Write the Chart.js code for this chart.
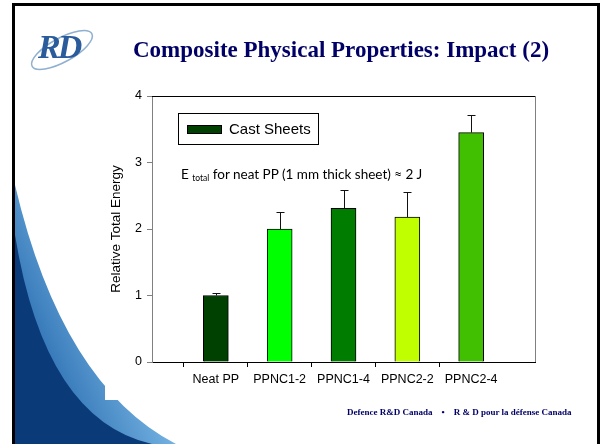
<!DOCTYPE html>
<html>
<head>
<meta charset="utf-8">
<script src="https://cdn.jsdelivr.net/npm/chart.js@4.4.0/dist/chart.umd.min.js"></script>
<style>
  html, body { margin: 0; padding: 0; background: #fff; }
  #wrap { position: relative; width: 602px; height: 444px; overflow: hidden; }
  #c { position: absolute; left: 0; top: 0; }
  .txt { position: absolute; white-space: nowrap; }
  #title { left: 133px; top: 37px; font: bold 23px "Liberation Serif", serif; color: #000066; }
  #logo { left: 38px; top: 28px; font: bold italic 34px "Liberation Serif", serif; color: #2a5c9c; letter-spacing: -3px; }
  #footer { left: 347px; top: 407px; font: bold 9px "Liberation Serif", serif; color: #000066; }
  #legend { position: absolute; left: 178px; top: 113px; width: 139px; height: 30px; border: 1px solid #000; background: #fff; }
  #legend .sw { position: absolute; left: 8px; top: 11px; width: 33px; height: 7px; border: 1px solid #000; }
  #legend .lb { position: absolute; left: 50px; top: 6px; font: 15px "Liberation Sans", Arial, sans-serif; color: #000; }
  #note { left: 181px; top: 166px; font: 13.5px Lato, "Open Sans", sans-serif; color: #000; }
  #note sub { font-size: 8.5px; vertical-align: -2px; }
</style>
</head>
<body>
<div id="wrap">
  <canvas id="c" width="602" height="444"></canvas>
  <div class="txt" id="logo">RD</div>
  <div class="txt" id="title">Composite Physical Properties: Impact (2)</div>
  <div id="legend"><div class="sw"></div><div class="lb"></div></div>
  <div class="txt" id="note">E <sub>total</sub> for neat PP (1 mm thick sheet) ≈ 2 J</div>
  <div class="txt" id="footer">Defence R&amp;D Canada &nbsp;&nbsp; • &nbsp;&nbsp; R &amp; D pour la défense Canada</div>
</div>
<script>
// valeurs
const seriesName = 'Cast Sheets';
const categories = ['Neat PP', 'PPNC1-2', 'PPNC1-4', 'PPNC2-2', 'PPNC2-4'];
const energy = [1.0, 2.0, 2.31, 2.18, 3.45];
const errPlus = [0.04, 0.26, 0.27, 0.37, 0.27];
const barColors = ['#004000', '#00ff00', '#007c00', '#bfff00', '#40c000'];
const yTicks = [0, 1, 2, 3, 4];

// une case vide de chaque côté, comme sur l'original
const labels = [''].concat(categories, ['']);
const values = [null].concat(energy, [null]);
const errors = [null].concat(errPlus, [null]);
const colors = ['#fff'].concat(barColors, ['#fff']);

document.querySelector('#legend .sw').style.background = barColors[0];
document.querySelector('#legend .lb').textContent = seriesName;

const fondDiapo = {
  id: 'fondDiapo',
  beforeDraw(chart) {
    const ctx = chart.ctx;
    ctx.save();
    ctx.fillStyle = '#fff';
    ctx.fillRect(0, 0, 602, 444);
    // bande bleu clair
    let g = ctx.createLinearGradient(20, 320, 110, 280);
    g.addColorStop(0, '#2f72b4');
    g.addColorStop(1, '#78b6e4');
    ctx.fillStyle = g;
    ctx.beginPath();
    ctx.moveTo(15, 185);
    ctx.quadraticCurveTo(62, 385, 176, 444);
    ctx.lineTo(15, 444);
    ctx.closePath();
    ctx.fill();
    // partie bleu foncé
    ctx.fillStyle = '#0b3a78';
    ctx.beginPath();
    ctx.moveTo(15, 235);
    ctx.quadraticCurveTo(45, 420, 152, 444);
    ctx.lineTo(15, 444);
    ctx.closePath();
    ctx.fill();
    // fond blanc du graphique
    ctx.fillStyle = '#fff';
    ctx.fillRect(105, 82, 460, 318);
    // cadre noir
    ctx.fillStyle = '#000';
    ctx.fillRect(12, 3, 3, 441);
    ctx.fillRect(12, 3, 588, 3);
    ctx.fillRect(597, 3, 3, 441);
    // anneau du logo
    ctx.strokeStyle = '#8fb0d0';
    ctx.lineWidth = 1.5;
    ctx.beginPath();
    ctx.ellipse(62, 50, 34, 12, -0.5, 0, Math.PI * 2);
    ctx.stroke();
    ctx.restore();
  },
  afterDraw(chart) {
    const ctx = chart.ctx;
    const a = chart.chartArea;
    ctx.save();
    ctx.lineWidth = 1;
    ctx.strokeStyle = '#000';
    ctx.beginPath();
    ctx.moveTo(a.left, a.top + 0.5);
    ctx.lineTo(a.right, a.top + 0.5);
    ctx.stroke();
    ctx.strokeStyle = '#808080';
    ctx.beginPath();
    ctx.moveTo(a.right + 0.5, a.top);
    ctx.lineTo(a.right + 0.5, a.bottom);
    ctx.stroke();
    ctx.restore();
  }
};

const barresErreur = {
  id: 'barresErreur',
  afterDatasetsDraw(chart) {
    const ctx = chart.ctx;
    const meta = chart.getDatasetMeta(0);
    const y = chart.scales.y;
    ctx.save();
    ctx.strokeStyle = '#111';
    ctx.lineWidth = 1;
    meta.data.forEach((bar, i) => {
      if (values[i] == null) return;
      const x = Math.round(bar.x) + 0.5;
      const y0 = y.getPixelForValue(values[i]);
      const y1 = Math.round(y.getPixelForValue(values[i] + errors[i])) + 0.5;
      ctx.beginPath();
      ctx.moveTo(x, y0);
      ctx.lineTo(x, y1);
      ctx.moveTo(x - 4, y1);
      ctx.lineTo(x + 4, y1);
      ctx.stroke();
    });
    ctx.restore();
  }
};

new Chart(document.getElementById('c'), {
  type: 'bar',
  data: {
    labels: labels,
    datasets: [{
      label: seriesName,
      data: values,
      backgroundColor: colors,
      borderColor: '#000',
      borderWidth: 1,
      barThickness: 25
    }]
  },
  options: {
    responsive: false,
    animation: false,
    layout: { padding: { left: 100, right: 67, top: 96, bottom: 0 } },
    plugins: { legend: { display: false }, tooltip: { enabled: false } },
    scales: {
      x: {
        offset: false,
        afterFit: (s) => { s.height = 82; },
        border: { color: '#000', width: 1 },
        grid: {
          drawOnChartArea: false,
          tickLength: 5,
          tickColor: (c) => (labels[c.index] ? '#000' : 'rgba(0,0,0,0)')
        },
        ticks: {
          autoSkip: false, maxRotation: 0, padding: 5, color: '#000',
          font: { family: '"Liberation Sans", Arial, sans-serif', size: 12.5 }
        }
      },
      y: {
        min: 0, max: 4,
        afterFit: (s) => { s.width = 52; },
        afterBuildTicks: (s) => { s.ticks = yTicks.map(v => ({ value: v })); },
        border: { color: '#808080', width: 1 },
        grid: { drawOnChartArea: false, tickLength: 5, tickColor: '#808080' },
        ticks: {
          padding: 5, color: '#000',
          font: { family: '"Liberation Sans", Arial, sans-serif', size: 12.5 }
        },
        title: {
          display: true, text: 'Relative Total Energy', color: '#000',
          padding: { top: 8, bottom: 0 },
          font: { family: '"Liberation Sans", Arial, sans-serif', size: 13.5 }
        }
      }
    }
  },
  plugins: [fondDiapo, barresErreur]
});
</script>
</body>
</html>
